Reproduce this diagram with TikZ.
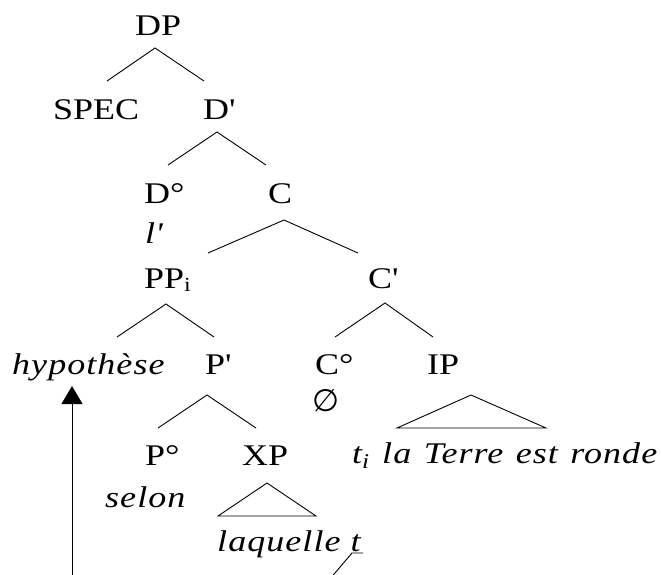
\documentclass[tikz,border=0pt]{standalone}
\usepackage{fontspec}
\usetikzlibrary{arrows.meta,calc}
\newfontfamily\tf[FakeStretch=1.2, ItalicFeatures={LetterSpace=3.5}]{Liberation Serif}
\newfontfamily\symf{DejaVu Sans}
\newcommand{\subi}{\raisebox{-3pt}{\fontsize{20}{20}\selectfont i}}
\begin{document}
\begin{tikzpicture}[x=1pt,y=-1pt,
  lbl/.style={anchor=base west, inner sep=0pt, font=\fontsize{30}{36}\tf},
  branch/.style={line width=0.9pt},
  movearrow/.style={line width=0.9pt, -{Triangle[width=21pt,length=18pt]}}]
\useasboundingbox (0,0) rectangle (661,574);
% nodes
\node[lbl] (DP) at (135,35) {DP};
\node[lbl] (SPEC) at (53,119) {SPEC};
\node[lbl] (Dbar) at (203,119) {D\textquotesingle};
\node[lbl] (Dzero) at (144,203) {D°};
\node[lbl] (C) at (268,203) {C};
\node[lbl] (lart) at (145,243) {\itshape l\textquotesingle};
\node[lbl] (PP) at (144,288) {PP\subi};
\node[lbl] (Cbar) at (368,288) {C\textquotesingle};
\node[lbl] (hyp) at (12,374) {\itshape hypothèse};
\node[lbl] (Pbar) at (205,374) {P\textquotesingle};
\node[lbl] (Czero) at (315,374) {C°};
\node[lbl] (IP) at (427,374) {IP};
\node[inner sep=0pt, font=\fontsize{31}{34}\symf] (empty) at (326,401) {∅};
\node[lbl] (Pzero) at (145,465) {P°};
\node[lbl] (XP) at (242,465) {XP};
\node[lbl] (terre) at (352,463) {\itshape\spaceskip=12.5pt t\textsubscript{i} la Terre est ronde};
\node[lbl] (selon) at (105,507) {\itshape selon};
\node[lbl] (laquelle) at (217,551) {\itshape laquelle t};
% branch points
\coordinate (aDP) at (155,48);
\coordinate (aDbar) at (217,132);
\coordinate (aC) at (284,220);
\coordinate (aPP) at (166,304);
\coordinate (aCbar) at (385,303);
\coordinate (aPbar) at (207,395);
\draw[branch] (107,81) -- (aDP) -- (204,81);
\draw[branch] (168,165) -- (aDbar) -- (266,165);
\draw[branch] (208,253) -- (aC) -- (358,253);
\draw[branch] (117,337) -- (aPP) -- (214,337);
\draw[branch] (335,337) -- (aCbar) -- (433,337);
\draw[branch] (158,428) -- (aPbar) -- (256,428);
% triangles
\coordinate (aXP) at (267,483);
\coordinate (aIP) at (471,395);
\draw[branch] (aXP) -- (218,516) -- (316,516) -- cycle;
\draw[branch] (aIP) -- (397,428) -- (546,428) -- cycle;
% movement
\coordinate (abot) at (72,580);
\draw[movearrow] (abot) -- (72,386);
\coordinate (tbot) at (329,580);
\draw[branch] (tbot) -- (352,553) -- (363,553);
\end{tikzpicture}
\end{document}
